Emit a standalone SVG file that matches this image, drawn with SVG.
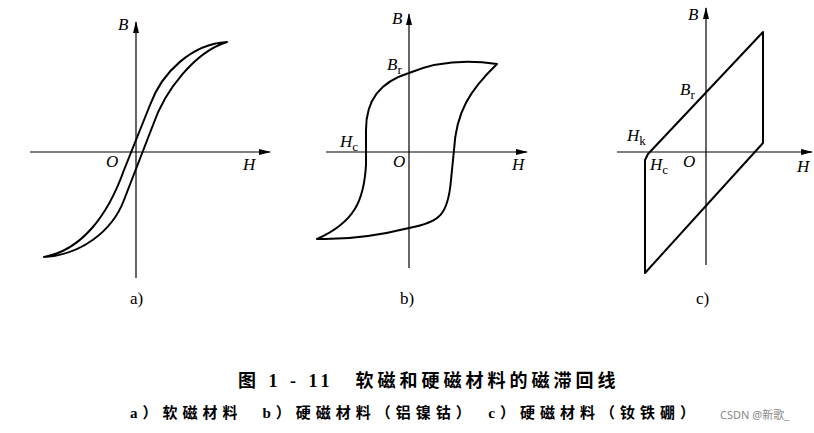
<svg xmlns="http://www.w3.org/2000/svg" width="814" height="433" viewBox="0 0 814 433">
<style>
.ax{stroke:#000;stroke-width:1.2;fill:none}
.cv{stroke:#000;stroke-width:2;fill:none;stroke-linejoin:round}
.it{font-family:"Liberation Serif",serif;font-style:italic;font-size:17px}
.sub{font-family:"Liberation Serif",serif;font-size:13px;font-style:normal}
.lb{font-family:"Liberation Serif",serif;font-size:17px}
.cap{font-family:"Liberation Serif","Noto Sans CJK SC",serif;font-weight:bold}
</style>
<defs><marker id="ar" markerWidth="12" markerHeight="8" refX="11" refY="4" orient="auto" markerUnits="userSpaceOnUse"><path d="M0,1 L12,4 L0,7 Z" fill="#000"/></marker></defs>
<g id="connectors">
<line class="ax" x1="136" y1="278" x2="136" y2="22" marker-end="url(#ar)"/>
<line class="ax" x1="30" y1="152" x2="270" y2="152" marker-end="url(#ar)"/>
<line class="ax" x1="409" y1="268" x2="409" y2="14" marker-end="url(#ar)"/>
<line class="ax" x1="326" y1="152" x2="527" y2="152" marker-end="url(#ar)"/>
<line class="ax" x1="706" y1="265" x2="706" y2="8" marker-end="url(#ar)"/>
<line class="ax" x1="617" y1="152" x2="812" y2="152" marker-end="url(#ar)"/>
</g>
<g id="loop-a">
<path class="cv" d="M227,42 C192,44 162,72 150,105 L124,170 C108,215 82,250 44,257 C80,255 112,232 124,200 L153,125 C165,90 195,52 227,42 Z"/>
<text class="it" x="118" y="30">B</text><text class="it" x="106" y="167">O</text><text class="it" x="243" y="170">H</text>
<text class="lb" x="130" y="304">a)</text>
</g>
<g id="loop-b">
<path class="cv" d="M497,64 C470,60 440,60 409,73 C380,82 366,100 366,130 L366,165 C364,200 355,222 317,239 C350,240 385,234 409,228 C440,222 448,215 451,180 L454,150 C456,112 470,90 497,64 Z"/>
<text class="it" x="392" y="24">B</text><text class="it" x="387" y="70">B<tspan class="sub" dy="4">r</tspan></text>
<text class="it" x="340" y="147">H<tspan class="sub" dy="4">c</tspan></text>
<text class="it" x="393" y="167">O</text><text class="it" x="512" y="170">H</text>
<text class="lb" x="400" y="304">b)</text>
</g>
<g id="loop-c">
<path class="cv" d="M763,32 L763,143 L645,273 L645,160 L648,154 Z"/>
<text class="it" x="688" y="20">B</text><text class="it" x="680" y="95">B<tspan class="sub" dy="4">r</tspan></text>
<text class="it" x="627" y="141">H<tspan class="sub" dy="4">k</tspan></text>
<text class="it" x="650" y="170">H<tspan class="sub" dy="4">c</tspan></text>
<text class="it" x="683" y="167">O</text><text class="it" x="797" y="172">H</text>
<text class="lb" x="696" y="304">c)</text>
</g>
<g id="caption">
<text class="cap" x="238" y="387" font-size="18" letter-spacing="4">图 1 - 11　软磁和硬磁材料的磁滞回线</text>
<text class="cap" x="130" y="418" font-size="15" letter-spacing="5">a）软磁材料　b）硬磁材料（铝镍钴）　c）硬磁材料（钕铁硼）</text>
<text x="720" y="419" font-family="'Noto Sans','Noto Sans CJK SC',sans-serif" font-size="11" fill="#888">CSDN @新歌_</text>
</g>
</svg>
